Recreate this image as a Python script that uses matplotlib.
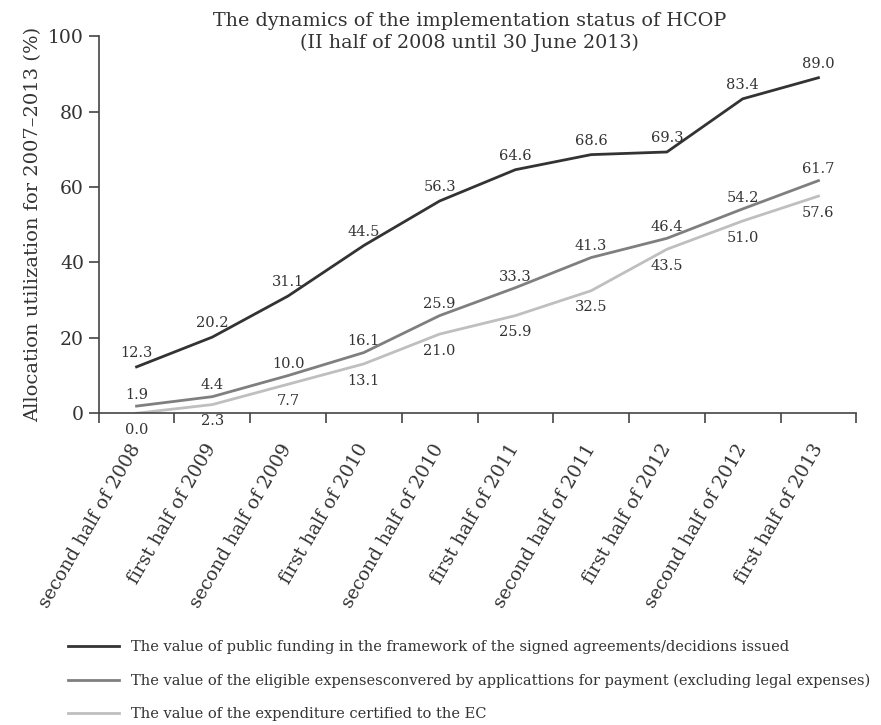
import matplotlib.pyplot as plt

periods = ["second half of 2008", "first half of 2009", "second half of 2009",
           "first half of 2010", "second half of 2010", "first half of 2011",
           "second half of 2011", "first half of 2012", "second half of 2012",
           "first half of 2013"]
signed = [12.3, 20.2, 31.1, 44.5, 56.3, 64.6, 68.6, 69.3, 83.4, 89.0]
eligible = [1.9, 4.4, 10.0, 16.1, 25.9, 33.3, 41.3, 46.4, 54.2, 61.7]
certified = [0.0, 2.3, 7.7, 13.1, 21.0, 25.9, 32.5, 43.5, 51.0, 57.6]

names = ["The value of public funding in the framework of the signed agreements/decidions issued",
         "The value of the eligible expensesconvered by applicattions for payment (excluding legal expenses)",
         "The value of the expenditure certified to the EC"]

plt.rcParams['font.family'] = 'DejaVu Serif'

fig = plt.figure(figsize=(8.81, 7.25), dpi=100)
ax = fig.add_axes([0.112, 0.430, 0.860, 0.520])

x = list(range(len(periods)))
l1, = ax.plot(x, signed, color='#333333', lw=2)
l2, = ax.plot(x, eligible, color='#7f7f7f', lw=2)
l3, = ax.plot(x, certified, color='#bfbfbf', lw=2)

for i in x:
    ax.annotate(f"{signed[i]:.1f}", (i, signed[i]), xytext=(0, 5), textcoords='offset points',
                ha='center', va='bottom', fontsize=10.5, color='#333333')
    ax.annotate(f"{eligible[i]:.1f}", (i, eligible[i]), xytext=(0, 3), textcoords='offset points',
                ha='center', va='bottom', fontsize=10.5, color='#333333')
    ax.annotate(f"{certified[i]:.1f}", (i, certified[i]), xytext=(0, -7), textcoords='offset points',
                ha='center', va='top', fontsize=10.5, color='#333333')

ax.set_xlim(-0.5, len(periods) - 0.5)
ax.set_ylim(0, 100)
ax.set_yticks([0, 20, 40, 60, 80, 100])
ax.set_xticks([i - 0.5 for i in x] + [len(periods) - 0.5])
ax.set_xticklabels([])
ax.set_xticks(x, minor=True)
ax.set_xticklabels(periods, minor=True, rotation=60, ha='right', va='center',
                   rotation_mode='anchor', fontsize=13.5, color='#333333')
ax.tick_params(axis='x', which='minor', length=0, pad=23)
ax.tick_params(axis='x', which='major', length=7, width=1.2, color='#444444')
ax.tick_params(axis='y', length=7, width=1.2, color='#444444', labelsize=13.5,
               labelcolor='#333333')
for s in ['top', 'right']:
    ax.spines[s].set_visible(False)
for s in ['left', 'bottom']:
    ax.spines[s].set_color('#444444')
    ax.spines[s].set_linewidth(1.2)

ax.set_ylabel("Allocation utilization for 2007–2013 (%)", fontsize=14, color='#333333')
fig.text(0.533, 1 - 32 / 725, "The dynamics of the implementation status of HCOP\n(II half of 2008 until 30 June 2013)",
         fontsize=13.8, color='#333333', ha='center', va='center', linespacing=1.25)

fig.legend([l1, l2, l3], names, loc='upper left', bbox_to_anchor=(68 / 881, 1 - 640 / 725),
           frameon=False, handlelength=3.5, handletextpad=0.85, labelspacing=1.33,
           borderpad=0, borderaxespad=0, labelcolor='#333333',
           prop={'family': 'DejaVu Serif', 'size': 10.5})

fig.savefig("out.png", dpi=100)
